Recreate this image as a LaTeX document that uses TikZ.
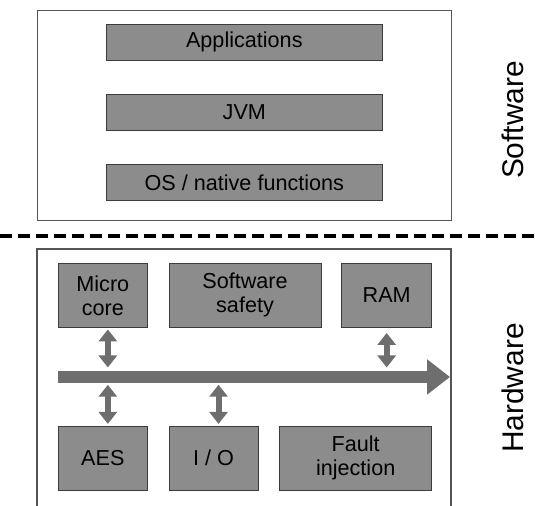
\documentclass[tikz,border=0pt]{standalone}
\usepackage{fontspec}
\setmainfont{Liberation Sans}
\usepackage{xcolor}
\usetikzlibrary{positioning,arrows.meta}
\definecolor{boxgray}{HTML}{8C8C8C}
\definecolor{arrgray}{HTML}{6E6E6E}
\definecolor{edgegray}{HTML}{3C3C3C}
\definecolor{framegray}{HTML}{555555}

\begin{document}
\begin{tikzpicture}[
    x=0.02cm, y=0.02cm,
    swbox/.style={draw=edgegray, fill=boxgray, minimum width=5.52cm, minimum height=0.72cm, inner sep=0pt, font=\fontsize{12.3}{13.6}\selectfont},
    hwbox/.style={draw=edgegray, fill=boxgray, minimum height=1.28cm, inner sep=0pt, align=center, font=\fontsize{12.3}{13.6}\selectfont},
    frame/.style={draw=framegray, line width=0.6pt},
    layer/.style={rotate=90, font=\fontsize{17}{20}\selectfont},
    sep/.style={line width=0.08cm, dash pattern=on 0.24cm off 0.12cm},
    bus/.style={arrgray, line width=0.24cm, -{Triangle[width=0.68cm, length=0.46cm]}},
    dbl/.style={arrgray, line width=0.12cm, {Triangle[width=0.36cm, length=0.24cm]}-{Triangle[width=0.36cm, length=0.24cm]}}
  ]
    \useasboundingbox (0,0) rectangle (535,506);

    \node[frame, minimum width=8.28cm, minimum height=4.2cm, anchor=north west] (swlayer) at (37,496) {};
    \node[swbox, anchor=north west] (apps) at (106,482) {Applications};
    \node[swbox, below=0.66cm of apps] (jvm) {JVM};
    \node[swbox, below=0.68cm of jvm] (os) {OS / native functions};
    \node[layer] (sw) at (513,386) {Software};

    \coordinate (sepL) at (0,270);
    \coordinate (sepR) at (535,270);
    \draw[sep] (sepL) -- (sepR);

    \draw[frame] (37,0) |- (451,257) -- (451,0);
    \node[hwbox, minimum width=1.78cm, anchor=north west] (micro) at (58,243) {Micro\\core};
    \node[hwbox, minimum width=3.04cm, right=0.42cm of micro] (safety) {Software\\safety};
    \node[hwbox, minimum width=1.8cm, right=0.4cm of safety] (ram) {RAM};
    \node[hwbox, minimum width=1.78cm, below=1.96cm of micro] (aes) {AES};
    \node[hwbox, minimum width=1.78cm, right=0.42cm of aes] (io) {I / O};
    \node[hwbox, minimum width=3.04cm, right=0.42cm of io] (fault) {Fault\\injection};
    \node[layer] (hw) at (513,118) {Hardware};

    \coordinate (busL) at (58,129);
    \coordinate (busR) at (450,129);
    \coordinate (busN) at (58,135);
    \coordinate (busS) at (58,123);
    \draw[bus] (busL) -- (busR);
    \draw[dbl, shorten <=1pt, shorten >=2pt] ([xshift=0.1cm]micro.south) -- ([xshift=0.1cm]micro.south |- busN);
    \draw[dbl, shorten <=3pt, shorten >=2pt] (ram.south) -- (ram.south |- busN);
    \draw[dbl, shorten <=1pt, shorten >=1pt] ([xshift=0.1cm]aes.north) -- ([xshift=0.1cm]aes.north |- busS);
    \draw[dbl, shorten <=1pt, shorten >=1pt] ([xshift=0.1cm]io.north) -- ([xshift=0.1cm]io.north |- busS);
  \end{tikzpicture}
\end{document}
